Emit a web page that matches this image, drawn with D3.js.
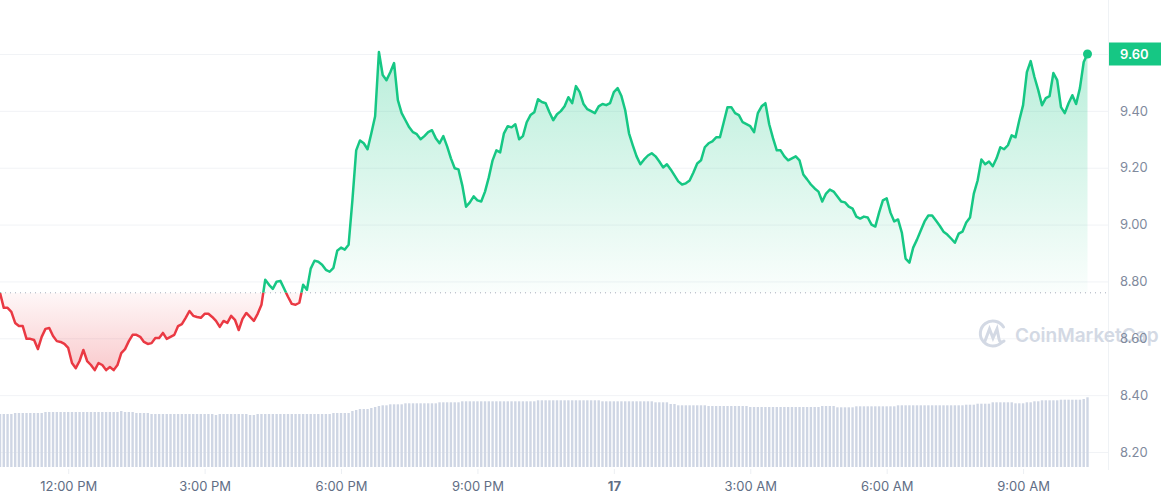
<!DOCTYPE html>
<html>
<head>
<meta charset="utf-8">
<script src="https://cdn.jsdelivr.net/npm/d3@7"></script>
<style>
  body { margin: 0; background: #fff; }
  svg { display: block; font-family: Inter, 'Noto Sans', sans-serif; }
</style>
</head>
<body>
<svg id="chart" width="1161" height="500"></svg>
<script>
// 5 minute candles, 10:30 -> 10:25 next day
const startTime = new Date(2023, 5, 16, 10, 30);
const stepMinutes = 5;

const prices = [
  8.760, 8.707, 8.707, 8.693, 8.654, 8.643, 8.643, 8.598, 8.598, 8.594,
  8.562, 8.605, 8.633, 8.636, 8.608, 8.590, 8.587, 8.580, 8.566, 8.513,
  8.495, 8.520, 8.559, 8.520, 8.506, 8.488, 8.513, 8.506, 8.488, 8.499,
  8.488, 8.506, 8.548, 8.562, 8.590, 8.612, 8.612, 8.605, 8.587, 8.580,
  8.583, 8.601, 8.601, 8.619, 8.598, 8.605, 8.612, 8.643, 8.650, 8.672,
  8.696, 8.679, 8.675, 8.672, 8.686, 8.686, 8.675, 8.661, 8.640, 8.661,
  8.654, 8.679, 8.665, 8.629, 8.668, 8.689, 8.675, 8.661, 8.686, 8.718,
  8.806, 8.788, 8.774, 8.799, 8.802, 8.774, 8.746, 8.721, 8.718, 8.725,
  8.788, 8.771, 8.845, 8.873, 8.869, 8.859, 8.841, 8.834, 8.848, 8.908,
  8.919, 8.912, 8.929, 9.085, 9.261, 9.296, 9.286, 9.265, 9.321, 9.381,
  9.607, 9.526, 9.508, 9.536, 9.568, 9.438, 9.392, 9.367, 9.342, 9.325,
  9.318, 9.300, 9.311, 9.325, 9.332, 9.304, 9.286, 9.311, 9.275, 9.233,
  9.198, 9.194, 9.138, 9.063, 9.078, 9.099, 9.085, 9.081, 9.116, 9.166,
  9.226, 9.261, 9.254, 9.321, 9.346, 9.342, 9.353, 9.300, 9.311, 9.360,
  9.385, 9.395, 9.441, 9.431, 9.427, 9.395, 9.367, 9.388, 9.399, 9.416,
  9.448, 9.427, 9.487, 9.466, 9.424, 9.406, 9.399, 9.392, 9.416,
  9.424, 9.420, 9.427, 9.466, 9.480, 9.452, 9.402, 9.321, 9.279, 9.240,
  9.212, 9.229, 9.243, 9.251, 9.240, 9.222, 9.201, 9.212, 9.194, 9.173,
  9.152, 9.141, 9.145, 9.155, 9.183, 9.215, 9.226, 9.272, 9.286, 9.293,
  9.307, 9.307, 9.360, 9.413, 9.413, 9.392, 9.385, 9.360, 9.353, 9.346,
  9.325, 9.392, 9.416, 9.427, 9.353, 9.304, 9.261, 9.261, 9.240, 9.226,
  9.233, 9.240, 9.226, 9.176, 9.159, 9.141, 9.127, 9.116, 9.081, 9.109,
  9.123, 9.116, 9.099, 9.081, 9.078, 9.063, 9.056, 9.028, 9.021, 9.028,
  9.025, 9.000, 8.993, 9.042, 9.085, 9.092, 9.042, 9.011, 9.018, 8.972,
  8.880, 8.866, 8.919, 8.947, 8.979, 9.011, 9.032, 9.032, 9.014, 8.996,
  8.975, 8.965, 8.951, 8.936, 8.968, 8.975, 9.007, 9.025, 9.109, 9.155,
  9.229, 9.212, 9.222, 9.205, 9.233, 9.272, 9.265, 9.279, 9.314, 9.307,
  9.367, 9.420, 9.536, 9.575, 9.519, 9.473, 9.420, 9.445, 9.452, 9.533,
  9.508, 9.413, 9.392, 9.427, 9.455, 9.424, 9.480, 9.572, 9.600
];

// volume, millions
const volumes = [
  5.3, 5.3, 5.3, 5.3, 5.4, 5.4, 5.4, 5.4, 5.4, 5.4, 5.4, 5.4,
  5.5, 5.5, 5.5, 5.5, 5.5, 5.5, 5.5, 5.5, 5.5, 5.5, 5.5, 5.5, 5.5, 5.5, 5.5, 5.5, 5.5, 5.5, 5.5, 5.5,
  5.6, 5.5, 5.5, 5.5, 5.4, 5.4, 5.4, 5.4,
  5.3, 5.3, 5.3, 5.3, 5.3, 5.3, 5.3, 5.3, 5.3, 5.3, 5.3, 5.3, 5.3, 5.3, 5.3, 5.3, 5.3,
  5.2, 5.3, 5.3, 5.3, 5.3, 5.3, 5.3, 5.3, 5.3, 5.2, 5.2,
  5.3, 5.3, 5.3, 5.3, 5.3, 5.3, 5.3, 5.3, 5.3, 5.3, 5.3, 5.3, 5.3, 5.3, 5.3, 5.3, 5.3, 5.3, 5.3, 5.3,
  5.4, 5.4, 5.4, 5.4, 5.4, 5.6, 5.7, 5.8, 5.8, 5.8, 5.9, 6.0, 6.1, 6.17, 6.17, 6.27, 6.27, 6.27, 6.27,
  6.37, 6.37, 6.37, 6.37, 6.37, 6.37, 6.37, 6.37, 6.37, 6.47, 6.47, 6.47, 6.47, 6.47, 6.47,
  6.57, 6.57, 6.57, 6.57, 6.57, 6.57, 6.57, 6.57, 6.57, 6.57, 6.57, 6.57, 6.57, 6.57, 6.57, 6.57, 6.57, 6.57, 6.57, 6.57,
  6.67, 6.67, 6.67, 6.67, 6.67, 6.67, 6.67, 6.67, 6.67, 6.67, 6.67, 6.67, 6.67, 6.67, 6.67, 6.67, 6.67,
  6.57, 6.57, 6.57, 6.57, 6.57, 6.57, 6.57, 6.57, 6.57, 6.57, 6.57, 6.57, 6.57, 6.57,
  6.47, 6.47, 6.47, 6.47, 6.3, 6.3, 6.17, 6.17, 6.17, 6.17, 6.17, 6.17, 6.17, 6.17,
  6.1, 6.1, 6.1, 6.1, 6.1, 6.1, 6.1, 6.1, 6.1, 6.1, 6.1,
  6.0, 6.0, 6.0, 6.0, 6.0, 6.0, 6.0, 6.0, 6.0, 6.0, 6.0, 6.0, 6.0, 6.0, 6.0, 6.0, 6.0, 6.0, 6.0,
  6.1, 6.1, 6.1, 6.1, 5.97, 5.97, 5.97, 5.97, 5.97,
  6.07, 6.07, 6.07, 6.07, 6.07, 6.07, 6.07, 6.07, 6.07, 6.07, 6.07,
  6.17, 6.17, 6.17, 6.17, 6.17, 6.17, 6.17, 6.17, 6.17, 6.17, 6.17, 6.17, 6.17, 6.17, 6.17, 6.17, 6.17, 6.17,
  6.23, 6.23, 6.23, 6.33, 6.33, 6.33, 6.33, 6.47, 6.47, 6.47, 6.47, 6.47, 6.47,
  6.37, 6.37, 6.37, 6.47, 6.47, 6.57, 6.57, 6.67, 6.67, 6.67, 6.67, 6.67,
  6.73, 6.73, 6.73, 6.73, 6.73, 6.73, 6.8, 6.97
];

const priceTicks = [8.2, 8.4, 8.6, 8.8, 9.0, 9.2, 9.4, 9.6];
const timeTicks = [
  new Date(2023, 5, 16, 12), new Date(2023, 5, 16, 15), new Date(2023, 5, 16, 18), new Date(2023, 5, 16, 21),
  new Date(2023, 5, 17, 0), new Date(2023, 5, 17, 3), new Date(2023, 5, 17, 6), new Date(2023, 5, 17, 9)
];
const timeLabels = ['12:00 PM', '3:00 PM', '6:00 PM', '9:00 PM', '17', '3:00 AM', '6:00 AM', '9:00 AM'];

const green = '#16c784', red = '#ea3943';
const svg = d3.select('#chart');
const plotRight = 1108;

var data = prices.map((p, i) => ({
  t: new Date(startTime.getTime() + i * stepMinutes * 60000),
  p: p,
  v: volumes[i]
}));
var basePrice = prices[0];

var x = d3.scaleTime().domain([data[0].t, data[data.length - 1].t]).range([0, 1087.5]);
var y = d3.scaleLinear().domain([8.2, 9.6]).range([452, 54]);
var yVol = d3.scaleLinear().domain([0, 7.2]).range([467, 395]);
var baseY = y(basePrice);

var defs = svg.append('defs');
var gUp = defs.append('linearGradient').attr('id', 'gUp').attr('gradientUnits', 'userSpaceOnUse')
  .attr('x1', 0).attr('x2', 0).attr('y1', y(9.6)).attr('y2', baseY);
gUp.append('stop').attr('offset', 0).attr('stop-color', green).attr('stop-opacity', 0.3);
gUp.append('stop').attr('offset', 1).attr('stop-color', green).attr('stop-opacity', 0.02);
var gDown = defs.append('linearGradient').attr('id', 'gDown').attr('gradientUnits', 'userSpaceOnUse')
  .attr('x1', 0).attr('x2', 0).attr('y1', baseY).attr('y2', y(8.48));
gDown.append('stop').attr('offset', 0).attr('stop-color', red).attr('stop-opacity', 0.04);
gDown.append('stop').attr('offset', 1).attr('stop-color', red).attr('stop-opacity', 0.27);
defs.append('clipPath').attr('id', 'clipUp').append('rect')
  .attr('x', -5).attr('y', 0).attr('width', plotRight + 5).attr('height', baseY);
defs.append('clipPath').attr('id', 'clipDown').append('rect')
  .attr('x', -5).attr('y', baseY).attr('width', plotRight + 5).attr('height', 500 - baseY);
defs.append('clipPath').attr('id', 'clipPlot').append('rect')
  .attr('x', 0).attr('y', 0).attr('width', plotRight).attr('height', 500);

// gridlines
svg.append('g').attr('class', 'grid')
  .call(d3.axisRight(y).tickValues(priceTicks).tickSize(plotRight).tickFormat(''))
  .call(g => g.select('.domain').remove())
  .call(g => g.selectAll('line').attr('stroke', '#f1f3f6'));

svg.append('line').attr('x1', plotRight + 0.5).attr('x2', plotRight + 0.5).attr('y1', 0).attr('y2', 470)
  .attr('stroke', '#eff2f5');

// volume bars
svg.append('g').attr('clip-path', 'url(#clipPlot)')
  .selectAll('rect').data(data).enter().append('rect')
  .attr('x', d => x(d.t) - 1.2)
  .attr('y', d => yVol(d.v))
  .attr('width', 2.4)
  .attr('height', d => yVol(0) - yVol(d.v))
  .attr('fill', '#cfd6e4');

// watermark
var wm = svg.append('g').attr('fill', 'none').attr('stroke', '#d3d9e4').attr('stroke-width', 3).attr('stroke-linecap', 'round');
wm.append('path').attr('d', 'M1003.5,327 A12.5,12.5 0 1 0 1002,342');
wm.append('path').attr('d', 'M985,341 L989.5,329 L993,338 L997,329 L999,339 Q1000,344 1004,341');
svg.append('text').attr('x', 1015).attr('y', 342).attr('font-size', 19).attr('font-weight', 600)
  .attr('fill', '#d3d9e4').text('CoinMarketCap');

// areas
var area = d3.area().x(d => x(d.t)).y0(baseY).y1(d => y(d.p));
var line = d3.line().x(d => x(d.t)).y(d => y(d.p));

svg.append('path').datum(data).attr('d', area).attr('fill', 'url(#gUp)').attr('clip-path', 'url(#clipUp)');
svg.append('path').datum(data).attr('d', area).attr('fill', 'url(#gDown)').attr('clip-path', 'url(#clipDown)');

// baseline
svg.append('line').attr('x1', 0).attr('x2', plotRight - 2).attr('y1', baseY).attr('y2', baseY)
  .attr('stroke', '#a6adbb').attr('stroke-width', 1).attr('stroke-dasharray', '1,4');

svg.append('path').datum(data).attr('d', line).attr('fill', 'none').attr('stroke', green)
  .attr('stroke-width', 2.5).attr('stroke-linejoin', 'round').attr('clip-path', 'url(#clipUp)');
svg.append('path').datum(data).attr('d', line).attr('fill', 'none').attr('stroke', red)
  .attr('stroke-width', 2.5).attr('stroke-linejoin', 'round').attr('clip-path', 'url(#clipDown)');

var last = data[data.length - 1];
svg.append('circle').attr('cx', x(last.t)).attr('cy', y(last.p)).attr('r', 4.5).attr('fill', green);

// price axis
svg.append('g').attr('transform', `translate(${plotRight + 3},0)`)
  .call(d3.axisRight(y).tickValues(priceTicks).tickSize(0).tickPadding(9).tickFormat(d3.format('.2f')))
  .call(g => g.select('.domain').remove())
  .call(g => g.selectAll('text').attr('font-size', 13).attr('font-family', 'Inter, sans-serif').attr('fill', '#808a9d'));

// time axis
svg.append('g').attr('transform', 'translate(0,469)')
  .call(d3.axisBottom(x).tickValues(timeTicks).tickSize(5).tickPadding(8).tickFormat((d, i) => timeLabels[i]))
  .call(g => g.select('.domain').remove())
  .call(g => g.selectAll('line').attr('stroke', '#eceff3'))
  .call(g => g.selectAll('text').attr('font-size', 13).attr('font-family', 'Inter, sans-serif').attr('fill', '#616e85')
    .attr('font-weight', d => d.getHours() === 0 ? 700 : 400));

// current price tag
var tag = svg.append('g');
tag.append('rect').attr('x', plotRight + 1).attr('y', y(last.p) - 11.5).attr('width', 1161 - plotRight - 1).attr('height', 23)
  .attr('fill', green);
tag.append('text').attr('x', 1120).attr('y', y(last.p)).attr('dy', '0.35em').attr('font-size', 13)
  .attr('font-weight', 600).attr('fill', '#fff').text(last.p.toFixed(2));
</script>
</body>
</html>
